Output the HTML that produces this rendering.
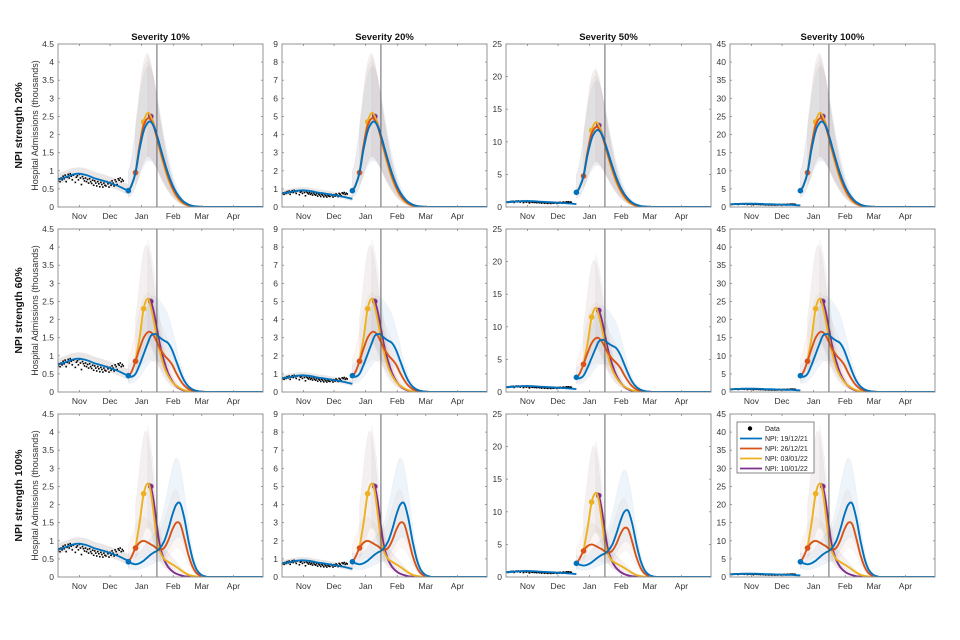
<!DOCTYPE html>
<html><head><meta charset="utf-8"><style>
html,body{margin:0;padding:0;background:#fff;}
svg{display:block;font-family:"Liberation Sans",Arial,sans-serif;}
</style></head><body>
<svg id="fig" width="960" height="640" viewBox="0 0 960 640"></svg>
<script>
// ---- data ----
const colTitles = ["Severity 10%","Severity 20%","Severity 50%","Severity 100%"];
const rowTitles = ["NPI strength 20%","NPI strength 60%","NPI strength 100%"];
const severityFactor = [1,2,5,10];
const yMaxes = [4.5,9,25,45];
const yTicks0 = [0,0.5,1,1.5,2,2.5,3,3.5,4,4.5];
const yTicks1 = [0,1,2,3,4,5,6,7,8,9];
const yTicks2 = [0,5,10,15,20,25];
const yTicks3 = [0,5,10,15,20,25,30,35,40,45];
const monthLabels = ["Nov","Dec","Jan","Feb","Mar","Apr"];
const monthDays = [21,51,82,113,141,172];
const dayMax = 201;
const cutoffDay = 97;
const seriesNames = ["NPI: 19/12/21","NPI: 26/12/21","NPI: 03/01/22","NPI: 10/01/22"];
const npiDays = [69,76,84,91];
const prefitDays = [0,5,10,15,20,25,30,35,40,45,50,55,60,65,69];
const prefitVals = [.75,.8,.85,.9,.92,.9,.86,.8,.76,.72,.67,.62,.57,.5,.45];
const dataVals = [.72,.78,.7,.8,.75,.85,.78,.88,.7,.82,.9,.8,.92,.85,.75,.88,.9,.68,.82,.86,.75,.9,.8,.62,.84,.78,.72,.8,.7,.76,.66,.78,.7,.65,.74,.6,.72,.66,.58,.7,.64,.56,.68,.62,.55,.66,.6,.58,.7,.64,.55,.68,.6,.72,.66,.58,.75,.7,.62,.78,.74,.8,.7,.76,.72];
const projDays = [69,72,76,80,84,88,91,94,97,100,104,108,112,116,120,124,128,132,136,140,145,150,160,201];
const N = null;
const r1Blue = [.45,.58,.95,1.6,2.1,2.33,2.35,2.22,1.98,1.68,1.28,.92,.62,.4,.24,.13,.07,.03,.015,.005,0,0,0,0];
const r1Red = [.45,.6,.95,1.7,2.25,2.45,2.4,2.2,1.92,1.6,1.2,.84,.55,.34,.19,.1,.05,.02,.01,0,0,0,0,0];
const r1Yellow = [N,N,.95,1.7,2.35,2.6,2.5,2.25,1.9,1.55,1.12,.77,.5,.3,.16,.08,.035,.015,.005,0,0,0,0,0];
const r1Purple = [N,N,N,N,N,2.6,2.5,2.27,1.93,1.58,1.15,.8,.52,.31,.17,.08,.035,.015,.005,0,0,0,0,0];
const r2Blue = [.45,.42,.5,.75,1.05,1.35,1.55,1.6,1.58,1.5,1.42,1.35,1.15,.85,.55,.3,.15,.07,.03,.01,0,0,0,0];
const r2Red = [.45,.55,.85,1.2,1.5,1.65,1.65,1.55,1.38,1.2,1.02,.9,.75,.52,.32,.17,.08,.035,.015,.005,0,0,0,0];
const r2Yellow = [N,N,.85,1.5,2.3,2.58,2.35,1.95,1.5,1.1,.7,.45,.28,.17,.1,.05,.02,.01,0,0,0,0,0,0];
const r2Purple = [N,N,N,N,N,2.58,2.5,2.2,1.75,1.3,.85,.52,.3,.16,.08,.035,.015,.005,0,0,0,0,0,0];
const r3Blue = [.42,.38,.35,.38,.45,.55,.62,.68,.72,.8,.98,1.3,1.7,2.0,2.02,1.6,1.0,.5,.2,.07,.01,0,0,0];
const r3Red = [.42,.55,.8,.95,1.0,.95,.9,.85,.78,.75,.8,1.0,1.3,1.5,1.45,1.05,.6,.28,.1,.03,.005,0,0,0];
const r3Yellow = [N,N,.8,1.5,2.3,2.58,2.35,1.7,1.05,.7,.5,.42,.35,.28,.2,.12,.06,.03,.01,0,0,0,0,0];
const r3Purple = [N,N,N,N,N,2.58,2.5,2.05,1.4,.85,.48,.28,.16,.09,.05,.02,.01,0,0,0,0,0,0,0];

const yTicksAll = [yTicks0,yTicks1,yTicks2,yTicks3];
const rowSeries = [[r1Blue,r1Red,r1Yellow,r1Purple],[r2Blue,r2Red,r2Yellow,r2Purple],[r3Blue,r3Red,r3Yellow,r3Purple]];
const colors = ["#0072BD","#D95319","#EDB120","#7E2F8E"];
const bandFill = ["rgba(0,114,189,0.07)","rgba(200,140,110,0.08)","rgba(160,130,120,0.12)","rgba(160,120,140,0.07)"];
const bandUp = 1.7, bandLo = 0.55;

const NS = "http://www.w3.org/2000/svg";
const svg = document.getElementById("fig");
function mk(tag, attrs, parent){const e=document.createElementNS(NS,tag);for(const k in attrs)e.setAttribute(k,attrs[k]);(parent||svg).appendChild(e);return e;}

const colX = [58,282,506,730], rowY = [44,229,414], PW = 205, PH = 163;

function smoothPath(pts){
  if(pts.length<2) return "";
  let d="M"+pts[0][0].toFixed(1)+","+pts[0][1].toFixed(1);
  for(let i=0;i<pts.length-1;i++){
    const p0=pts[Math.max(0,i-1)],p1=pts[i],p2=pts[i+1],p3=pts[Math.min(pts.length-1,i+2)];
    const c1=[p1[0]+(p2[0]-p0[0])/6,p1[1]+(p2[1]-p0[1])/6];
    const c2=[p2[0]-(p3[0]-p1[0])/6,p2[1]-(p3[1]-p1[1])/6];
    d+="C"+c1[0].toFixed(1)+","+c1[1].toFixed(1)+" "+c2[0].toFixed(1)+","+c2[1].toFixed(1)+" "+p2[0].toFixed(1)+","+p2[1].toFixed(1);
  }
  return d;
}
function interp(days, vals, day){
  for(let i=0;i<days.length-1;i++){
    if(day>=days[i]&&day<=days[i+1]&&vals[i]!=null&&vals[i+1]!=null){
      const t=(day-days[i])/(days[i+1]-days[i]);return vals[i]+t*(vals[i+1]-vals[i]);
    }
  }
  const j=days.indexOf(day); return j>=0?vals[j]:null;
}
function startDay(vals){for(let i=0;i<vals.length;i++)if(vals[i]!=null)return projDays[i];return 0;}
function winAvg(vals,d,a,b){let s=0,n=0;const sd=startDay(vals);for(let k=d-a;k<=d+b;k++){const v=interp(projDays,vals,Math.min(201,Math.max(sd,k)));if(v!=null){s+=v;n++;}}return n?s/n:0;}

for(let r=0;r<3;r++){
  for(let c=0;c<4;c++){
    const x0=colX[c], y0=rowY[r], ymax=yMaxes[c], f=severityFactor[c];
    const xs=d=>x0+d/dayMax*PW;
    const ys=v=>y0+PH-Math.min(v,ymax)/ymax*PH;
    const g=mk("g",{});
    
    
    const clipId="clip"+r+c;
    const cp=mk("clipPath",{id:clipId},g); mk("rect",{x:x0,y:y0,width:PW,height:PH},cp);
    const plot=mk("g",{"clip-path":"url(#"+clipId+")"},g);
    let up=[],lo=[];
    prefitDays.forEach((d,i)=>{up.push([xs(d),ys(prefitVals[i]+0.18)]);lo.push([xs(d),ys(Math.max(0,prefitVals[i]-0.12))]);});
    let bp=smoothPath(up)+"L"+smoothPath(lo.reverse()).slice(1)+"Z";
    const pb=mk("path",{d:bp,fill:"rgba(150,130,130,0.2)",stroke:"none"},plot);
    
    
    const ser=rowSeries[r];
    for(let s=0;s<4;s++){
      const u=[],l=[];
      const sd=startDay(ser[s]);
      for(let d=sd; d<=170; d+=2){
        u.push([xs(d),ys(winAvg(ser[s],d,3,6)*f*bandUp)]);
        l.push([xs(d),ys(winAvg(ser[s],d,3,3)*f*bandLo)]);
      }
      const d2=smoothPath(u)+"L"+smoothPath(l.reverse()).slice(1)+"Z";
      const b=mk("path",{d:d2,fill:bandFill[s],stroke:"rgba(180,150,150,0.12)","stroke-width":0.5},plot);
      
      
    }
    dataVals.forEach((v,i)=>{
      const dot=mk("rect",{x:xs(i)-0.8,y:ys(v)-0.8,width:1.6,height:1.6,fill:"#000"},plot);
      
      
    });
    const pl=mk("path",{d:smoothPath(prefitDays.map((d,i)=>[xs(d),ys(prefitVals[i])])),fill:"none",stroke:colors[0],"stroke-width":1.8},plot);
    
    
    [3,2,1,0].forEach(s=>{
      const pts=[];projDays.forEach((d,i)=>{const v=ser[s][i];if(v!=null)pts.push([xs(d),ys(v*f)]);});
      const ln=mk("path",{d:smoothPath(pts),fill:"none",stroke:colors[s],"stroke-width":1.9},plot);
      
      
      const vd=interp(projDays,ser[s],npiDays[s]);
      if(vd!=null){
        const m=mk("circle",{cx:xs(npiDays[s]),cy:ys(vd*f),r:2.8,fill:colors[s]},plot);
        
        
      }
    });
    const vl=mk("line",{x1:xs(cutoffDay),x2:xs(cutoffDay),y1:y0,y2:y0+PH,stroke:"#555","stroke-width":0.9},g);
    
    
    const bx=mk("rect",{x:x0,y:y0,width:PW,height:PH,fill:"none",stroke:"#8a8a8a","stroke-width":0.9},g);
    
    
    yTicksAll[c].forEach(t=>{
      const yy=ys(t);
      mk("line",{x1:x0,x2:x0+2,y1:yy,y2:yy,stroke:"#8a8a8a","stroke-width":0.8},g);
      mk("line",{x1:x0+PW-2,x2:x0+PW,y1:yy,y2:yy,stroke:"#8a8a8a","stroke-width":0.8},g);
      const tl=mk("text",{x:x0-4,y:yy+3,"text-anchor":"end","font-size":8.5,fill:"#333"},g);
      tl.textContent=String(t);
      
      
    });
    monthDays.forEach((d,i)=>{
      const xx=xs(d);
      mk("line",{x1:xx,x2:xx,y1:y0+PH,y2:y0+PH-2,stroke:"#8a8a8a","stroke-width":0.8},g);
      mk("line",{x1:xx,x2:xx,y1:y0,y2:y0+2,stroke:"#8a8a8a","stroke-width":0.8},g);
      const tl=mk("text",{x:xx,y:y0+PH+12,"text-anchor":"middle","font-size":8.5,fill:"#333"},g);
      tl.textContent=monthLabels[i];
      
      
    });
    if(r===0){
      const tt=mk("text",{x:x0+PW/2,y:y0-4,"text-anchor":"middle","font-size":9.5,"font-weight":"bold",fill:"#111"},g);
      tt.textContent=colTitles[c];
      
      
    }
    if(c===0){
      const yl=mk("text",{x:0,y:0,transform:"translate("+(x0-20)+","+(y0+PH/2)+") rotate(-90)","text-anchor":"middle","font-size":9,fill:"#333"},g);
      yl.textContent="Hospital Admissions (thousands)";
      
      
      const rl=mk("text",{x:0,y:0,transform:"translate("+(x0-36)+","+(y0+PH/2)+") rotate(-90)","text-anchor":"middle","font-size":10.5,"font-weight":"bold",fill:"#111"},g);
      rl.textContent=rowTitles[r];
      
      
    }
  }
}
const lg=mk("g",{});


mk("rect",{x:737,y:422,width:77,height:51,fill:"#fff",stroke:"#555","stroke-width":0.7},lg);
const le0=mk("circle",{cx:750,cy:428.5,r:2.2,fill:"#000"},lg);


const lt0=mk("text",{x:765,y:431,"font-size":7,fill:"#222"},lg); lt0.textContent="Data";
for(let s=0;s<4;s++){
  const yy=438.5+s*10;
  const ll=mk("line",{x1:740,x2:762,y1:yy,y2:yy,stroke:colors[s],"stroke-width":1.8},lg);
  
  
  const t=mk("text",{x:765,y:yy+2.5,"font-size":7,fill:"#222"},lg); t.textContent=seriesNames[s];
  
  
}
</script>
</body></html>
